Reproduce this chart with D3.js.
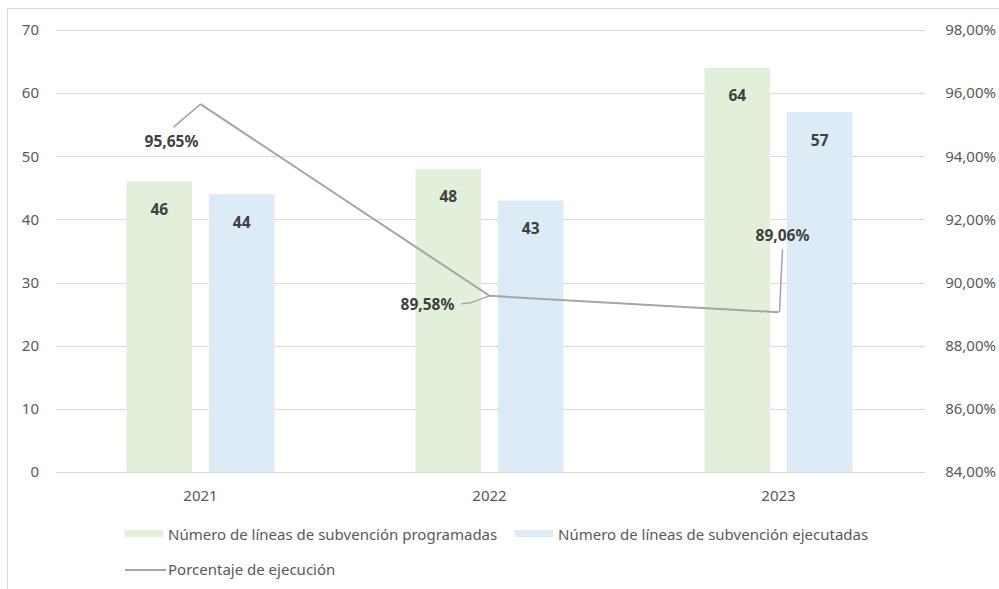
<!DOCTYPE html>
<html><head><meta charset="utf-8">
<script src="https://cdn.jsdelivr.net/npm/d3@7"></script>
<style>body{margin:0;background:#fff}svg{display:block}text{font-family:"Noto Sans",sans-serif}</style>
</head><body><svg id="c" width="999" height="589"></svg>
<script>
const years = ["2021","2022","2023"];
const programadas = [46,48,64];
const ejecutadas = [44,43,57];
const porcentaje = [0.9565,0.8958,0.8906];
const porcentajeLabels = ["95,65%","89,58%","89,06%"];
const leftTicks = [0,10,20,30,40,50,60,70];
const rightTicks = [0.84,0.86,0.88,0.90,0.92,0.94,0.96,0.98];
const seriesNames = ["Número de líneas de subvención programadas","Número de líneas de subvención ejecutadas","Porcentaje de ejecución"];
const colors = {prog:"#e2efda", ejec:"#ddebf7", line:"#a5a5a5"};

const svg = d3.select("#c");
const plot = {l:56, r:923, t:30, b:472};
const FS = 15, FSB = 15.5;

// chart border (cropped at right and bottom)
svg.append("rect").attr("x",7.5).attr("y",8.5).attr("width",1100).attr("height",700)
  .attr("fill","none").attr("stroke","#d9d9d9").attr("stroke-width",1);

const x = d3.scaleBand().domain(years).range([plot.l, plot.r]);
const xs = d3.scaleBand().domain(["prog","ejec"]).range([0,x.bandwidth()]).paddingInner(0.206).paddingOuter(0.855);
const yL = d3.scaleLinear().domain([0,70]).range([plot.b, plot.t]);
const yR = d3.scaleLinear().domain([0.84,0.98]).range([plot.b, plot.t]);

// gridlines
svg.append("g").selectAll("line").data(leftTicks).join("line")
  .attr("x1",plot.l).attr("x2",plot.r+2).attr("y1",d=>Math.round(yL(d))+0.5).attr("y2",d=>Math.round(yL(d))+0.5)
  .attr("stroke","#d9d9d9").attr("stroke-width",1);

// left axis labels
svg.append("g").selectAll("text").data(leftTicks).join("text")
  .attr("x",39).attr("y",d=>yL(d)).attr("dy","0.35em").attr("text-anchor","end")
  .attr("font-size",FS).attr("fill","#595959").text(d=>d);
// right axis labels
const fmtPct = d=> (d*100).toFixed(2).replace(".",",")+"%";
svg.append("g").selectAll("text").data(rightTicks).join("text")
  .attr("x",996).attr("y",d=>yR(d)).attr("dy","0.35em").attr("text-anchor","end")
  .attr("font-size",FS).attr("fill","#595959").text(fmtPct);
// x labels
svg.append("g").selectAll("text").data(years).join("text")
  .attr("x",d=>x(d)+x.bandwidth()/2).attr("y",496).attr("dy","0.35em").attr("text-anchor","middle")
  .attr("font-size",FS).attr("fill","#595959").text(d=>d);

// bars
const rows = years.map((y,i)=>({year:y, prog:programadas[i], ejec:ejecutadas[i]}));
const barData = rows.flatMap(r=>["prog","ejec"].map(k=>({year:r.year,key:k,v:r[k]})));
svg.append("g").selectAll("rect").data(barData).join("rect")
  .attr("x",d=>x(d.year)+xs(d.key)).attr("width",xs.bandwidth())
  .attr("y",d=>yL(d.v)).attr("height",d=>yL(0)-yL(d.v)).attr("fill",d=>colors[d.key]);
svg.append("g").selectAll("text").data(barData).join("text")
  .attr("x",d=>x(d.year)+xs(d.key)+xs.bandwidth()/2).attr("y",d=>yL(d.v)+28).attr("dy","0.35em")
  .attr("text-anchor","middle").attr("font-size",FSB).attr("font-weight","bold").attr("fill","#404040")
  .text(d=>d.v);

// line
const pts = years.map((y,i)=>({year:y,v:porcentaje[i],lab:porcentajeLabels[i]}));
const line = d3.line().x(d=>x(d.year)+x.bandwidth()/2).y(d=>yR(d.v));
svg.append("path").datum(pts).attr("d",line).attr("fill","none").attr("stroke",colors.line).attr("stroke-width",2);

// labels with leader lines (label offsets relative to point)
const labelOff = [{dx:-29,dy:37},{dx:-62,dy:9},{dx:4,dy:-77}];
const leaders = [
  (px,py)=>[[px-27,py+23],[px,py]],
  (px,py)=>[[px-28,py+8],[px-19,py+7],[px,py]],
  (px,py)=>[[px+4,py-63],[px+1,py]]
];
pts.forEach((d,i)=>{
  const px = x(d.year)+x.bandwidth()/2, py = yR(d.v);
  svg.append("path").attr("d",d3.line()(leaders[i](px,py))).attr("fill","none")
    .attr("stroke",colors.line).attr("stroke-width",1.5);
  svg.append("text").attr("x",px+labelOff[i].dx).attr("y",py+labelOff[i].dy).attr("dy","0.35em")
    .attr("text-anchor","middle").attr("font-size",FSB).attr("font-weight","bold").attr("fill","#404040")
    .text(d.lab);
});

// legend
const lg = svg.append("g");
const leg1 = [{x:125,key:"prog",name:seriesNames[0]},{x:515,key:"ejec",name:seriesNames[1]}];
lg.selectAll("rect").data(leg1).join("rect").attr("x",d=>d.x).attr("y",530).attr("width",38).attr("height",7).attr("fill",d=>colors[d.key]);
lg.selectAll("text.l1").data(leg1).join("text").attr("class","l1").attr("x",d=>d.x+43).attr("y",535).attr("dy","0.35em")
  .attr("font-size",FS).attr("fill","#595959").text(d=>d.name);
lg.append("line").attr("x1",125).attr("x2",166).attr("y1",570).attr("y2",570).attr("stroke",colors.line).attr("stroke-width",2);
lg.append("text").attr("x",168).attr("y",570).attr("dy","0.35em").attr("font-size",FS).attr("fill","#595959").text(seriesNames[2]);
</script></body></html>
